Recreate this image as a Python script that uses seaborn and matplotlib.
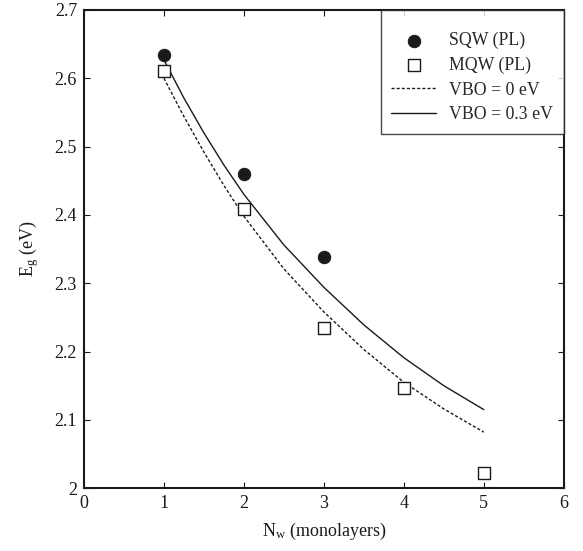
import numpy as np
import pandas as pd
import matplotlib
matplotlib.use("Agg")
import matplotlib.pyplot as plt
import seaborn as sns

# measured points
sqw_n = [1, 2, 3]
sqw_eg = [2.634, 2.460, 2.339]
mqw_n = [1, 2, 3, 4, 5]
mqw_eg = [2.611, 2.409, 2.235, 2.147, 2.022]

# calculated curves
calc_n = [1.0, 1.25, 1.5, 1.75, 2.0, 2.5, 3.0, 3.5, 4.0, 4.5, 5.0]
vbo0_eg = [2.600, 2.544, 2.492, 2.443, 2.398, 2.321, 2.258, 2.203, 2.155, 2.116, 2.082]
vbo03_eg = [2.627, 2.571, 2.520, 2.473, 2.430, 2.356, 2.294, 2.239, 2.191, 2.150, 2.115]

sns.set_theme(style="ticks")
plt.rcParams["font.family"] = ["Liberation Serif", "DejaVu Serif"]
plt.rcParams["mathtext.fontset"] = "custom"
plt.rcParams["mathtext.rm"] = "Liberation Serif"
plt.rcParams["mathtext.it"] = "Liberation Serif:italic"

fig = plt.figure(figsize=(5.83, 5.51), dpi=100)
ax = fig.add_axes([0.144, 0.114, 0.823, 0.868])

sqw = pd.DataFrame({"n": sqw_n, "eg": sqw_eg})
mqw = pd.DataFrame({"n": mqw_n, "eg": mqw_eg})
calc = pd.DataFrame({"n": calc_n, "v0": vbo0_eg, "v3": vbo03_eg})

sns.scatterplot(data=sqw, x="n", y="eg", ax=ax, marker="o", s=80,
                color="#1a1a1a", edgecolor="#1a1a1a", label="SQW (PL)", zorder=3)
sns.scatterplot(data=mqw, x="n", y="eg", ax=ax, marker="s", s=70,
                facecolor="white", edgecolor="#1a1a1a", linewidth=1.0,
                label="MQW (PL)", zorder=3)
sns.lineplot(data=calc, x="n", y="v0", ax=ax, color="#1a1a1a", lw=1.0,
             linestyle=(0, (2.2, 1.5)), label="VBO = 0 eV")
sns.lineplot(data=calc, x="n", y="v3", ax=ax, color="#1a1a1a", lw=1.0,
             label="VBO = 0.3 eV")

ax.set_xlim(0, 6)
ax.set_ylim(2.0, 2.7)
ax.set_xticks(range(0, 7))
ax.set_yticks(np.arange(2.0, 2.71, 0.1))
ax.set_yticklabels(["2", "2.1", "2.2", "2.3", "2.4", "2.5", "2.6", "2.7"])
ax.tick_params(direction="in", length=4, width=0.8, labelsize=13,
               top=True, right=True, colors="#1a1a1a", pad=5)
for sp in ax.spines.values():
    sp.set_linewidth(1.5)
    sp.set_color("#1a1a1a")

ax.set_xlabel("N$_\\mathrm{w}$ (monolayers)", fontsize=13, color="#1a1a1a", labelpad=6)
ax.set_ylabel("E$_\\mathrm{g}$ (eV)", fontsize=13, color="#1a1a1a", labelpad=10)

# blank small title only adds the extra space above the first row
leg = ax.legend(loc="upper right", fontsize=12.8, frameon=True, fancybox=False,
                borderaxespad=0, handlelength=2.5, borderpad=0.6,
                labelspacing=0.42, handletextpad=0.75,
                title=" ", title_fontsize=2)
leg.get_frame().set_edgecolor("#1a1a1a")
leg.get_frame().set_linewidth(1.0)

fig.savefig("out.png", dpi=100)
